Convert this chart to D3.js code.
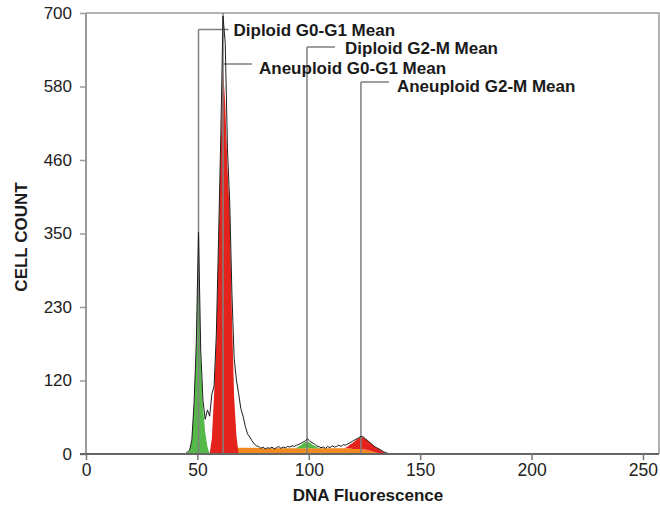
<!DOCTYPE html>
<html>
<head>
<meta charset="utf-8">
<script src="https://cdn.jsdelivr.net/npm/d3@7"></script>
<style>
  html, body { margin: 0; padding: 0; background: #fff; }
  svg { display: block; font-family: "Liberation Sans", Arial, sans-serif; }
</style>
</head>
<body>
<div id="container"></div>
<script>
// DNA histogram, one value per channel (channel c is drawn at c + 0.5)
const totalStart = 44;
const totalCounts = [
  0, 3, 6, 22, 80, 175, 352, 165, 85, 55,
  70, 60, 95, 108, 190, 340, 505, 695, 652, 485,
  400, 255, 152, 118, 96, 72, 60, 44, 32, 27,
  21, 16, 13, 12, 9, 11, 8, 10, 9, 11,
  8, 10, 12, 9, 11, 10, 12, 11, 13, 12,
  14, 15, 17, 19, 21, 24, 20, 18, 16, 13,
  12, 10, 11, 9, 12, 10, 13, 11, 12, 14,
  12, 15, 14, 16, 18, 20, 22, 24, 26, 28,
  27, 24, 21, 18, 15, 12, 10, 8, 6, 4,
  2, 1, 0
];

// fitted components
const dipG1Start = 44;
const dipG1Counts = [0, 2, 5, 20, 75, 170, 340, 150, 75, 35, 12, 0];

const aneuG1Start = 55;
const aneuG1Counts = [0, 25, 95, 180, 330, 490, 613, 555, 455, 385, 220, 90, 30, 0];

const sPhaseStart = 55;
const sPhaseCounts = [
  0, 2, 4, 6, 8, 9, 10, 10, 10,
  11, 11, 11, 10, 10, 10, 10, 10, 10, 10, 10, 10, 10,
  10, 9, 9, 9, 9, 9, 9, 9, 9, 9,
  9, 9, 9, 9, 9, 9, 9, 9, 9, 9,
  9, 9, 9, 9, 9, 9, 9, 9, 9, 9,
  9, 9, 9, 9, 9, 9, 9, 9, 9, 9,
  9, 9, 8,
  8, 8, 8, 8, 7, 7, 6, 5, 4, 3, 2, 1, 0
];

// G2-M peaks sit on top of the S-phase
const dipG2Start = 93;
const dipG2Counts = [0, 1, 3, 5, 8, 10, 11, 9, 6, 4, 2, 1, 0];

const aneuG2Start = 115;
const aneuG2Counts = [0, 1, 3, 6, 9, 12, 15, 17, 19, 19, 17, 15, 13, 11, 9, 8, 7, 5, 3, 2, 1, 0];

// mean markers
const meanNames = ["Diploid G0-G1 Mean", "Diploid G2-M Mean", "Aneuploid G0-G1 Mean", "Aneuploid G2-M Mean"];
const meanValues = [50.5, 99.2, 61.5, 123.4];

// axes
const xTicks = [0, 50, 100, 150, 200, 250];
const yTickLabels = ["0", "120", "230", "350", "460", "580", "700"];
const yMax = 700;
const xMax = 257.2;

const width = 660;
const height = 511;
const margin = { top: 13, right: 1, bottom: 57, left: 86 };

const green = "#55b948";
const red = "#e4231c";
const orange = "#f0891f";

const x = d3.scaleLinear().domain([0, xMax]).range([margin.left, width - margin.right]);
const y = d3.scaleLinear().domain([0, yMax]).range([height - margin.bottom, margin.top]);

function toPoints(start, counts) {
  return counts.map((c, i) => ({ ch: start + i, v: c }));
}

function sPhaseAt(ch) {
  const i = ch - sPhaseStart;
  return i >= 0 && i < sPhaseCounts.length ? sPhaseCounts[i] : 0;
}

const svg = d3.create("svg")
  .attr("viewBox", [0, 0, width, height])
  .attr("width", width)
  .attr("height", height);

// frame on top and right
svg.append("path")
  .attr("d", `M${x(0)},${y(yMax)}H${x(xMax)}V${y(0)}`)
  .attr("fill", "none")
  .attr("stroke", "#9a9a9a")
  .attr("stroke-width", 1.5);

const areaFromZero = d3.area()
  .x((d) => x(d.ch + 0.5))
  .y0(y(0))
  .y1((d) => y(d.v));

const areaOnS = d3.area()
  .x((d) => x(d.ch + 0.5))
  .y0((d) => y(sPhaseAt(d.ch)))
  .y1((d) => y(sPhaseAt(d.ch) + d.v));

svg.append("path")
  .datum(toPoints(sPhaseStart, sPhaseCounts))
  .attr("fill", orange)
  .attr("d", areaFromZero);

svg.append("path")
  .datum(toPoints(dipG2Start, dipG2Counts))
  .attr("fill", green)
  .attr("d", areaOnS);

svg.append("path")
  .datum(toPoints(aneuG2Start, aneuG2Counts))
  .attr("fill", red)
  .attr("d", areaOnS);

svg.append("path")
  .datum(toPoints(dipG1Start, dipG1Counts))
  .attr("fill", green)
  .attr("d", areaFromZero);

svg.append("path")
  .datum(toPoints(aneuG1Start, aneuG1Counts))
  .attr("fill", red)
  .attr("d", areaFromZero);

// mean lines with their labels (pixel layout: line top, connector end, text x, text baseline)
const meanLayout = [
  { top: 29.5, lineY: 29.5, end: 30, tx: 35, ty: 36 },
  { top: 47, lineY: 47, end: 28, tx: 38, ty: 54 },
  { top: 13, lineY: 64, end: 29, tx: 36, ty: 73.5 },
  { top: 82, lineY: 82, end: 28, tx: 36, ty: 92 }
];

const means = svg.append("g")
  .selectAll("g")
  .data(meanValues.map((v, i) => ({ v, name: meanNames[i], lay: meanLayout[i] })))
  .join("g");

means.append("path")
  .attr("d", (d) => {
    const mx = x(d.v);
    return `M${mx},${y(0)}V${d.lay.top}M${mx},${d.lay.lineY}H${mx + d.lay.end}`;
  })
  .attr("fill", "none")
  .attr("stroke", "#808080")
  .attr("stroke-width", 1.5);

means.append("text")
  .attr("x", (d) => x(d.v) + d.lay.tx)
  .attr("y", (d) => d.lay.ty)
  .attr("font-size", 17)
  .attr("font-weight", "bold")
  .attr("fill", "#1a1a1a")
  .text((d) => d.name);

// histogram outline
const line = d3.line()
  .x((d) => x(d.ch + 0.5))
  .y((d) => y(d.v));

svg.append("path")
  .datum(toPoints(totalStart, totalCounts))
  .attr("fill", "none")
  .attr("stroke", "#1c1c1c")
  .attr("stroke-width", 1)
  .attr("d", line);

// y axis
const yTickValues = yTickLabels.map((t, i) => (i * yMax) / (yTickLabels.length - 1));
const yAxis = svg.append("g")
  .attr("transform", `translate(${x(0)},0)`)
  .call(d3.axisLeft(y)
    .tickValues(yTickValues)
    .tickFormat((d, i) => yTickLabels[i])
    .tickSize(6)
    .tickPadding(8));
yAxis.select(".domain").attr("stroke", "#9a9a9a").attr("stroke-width", 2).attr("d", `M0,${y(yMax)}V${y(0)}`);
yAxis.selectAll(".tick line").attr("stroke", "#9a9a9a").attr("stroke-width", 1.5);
yAxis.selectAll("text").attr("font-size", 17).attr("fill", "#222");

// x axis
const xAxis = svg.append("g")
  .attr("transform", `translate(0,${y(0)})`)
  .call(d3.axisBottom(x)
    .tickValues(xTicks)
    .tickSize(6)
    .tickPadding(4));
xAxis.select(".domain").attr("stroke", "#666").attr("stroke-width", 2).attr("d", `M${x(0) - 6},0H${x(xMax)}`);
xAxis.selectAll(".tick line").attr("stroke", "#777").attr("stroke-width", 1.5);
xAxis.selectAll("text").attr("font-size", 17.5).attr("fill", "#222");

// axis titles
svg.append("text")
  .attr("x", 368)
  .attr("y", 501)
  .attr("text-anchor", "middle")
  .attr("font-size", 17)
  .attr("font-weight", "bold")
  .attr("fill", "#1a1a1a")
  .text("DNA Fluorescence");

svg.append("text")
  .attr("transform", "translate(27,237) rotate(-90)")
  .attr("text-anchor", "middle")
  .attr("font-size", 17)
  .attr("font-weight", "bold")
  .attr("fill", "#1a1a1a")
  .text("CELL COUNT");

document.getElementById("container").append(svg.node());
</script>
</body>
</html>
